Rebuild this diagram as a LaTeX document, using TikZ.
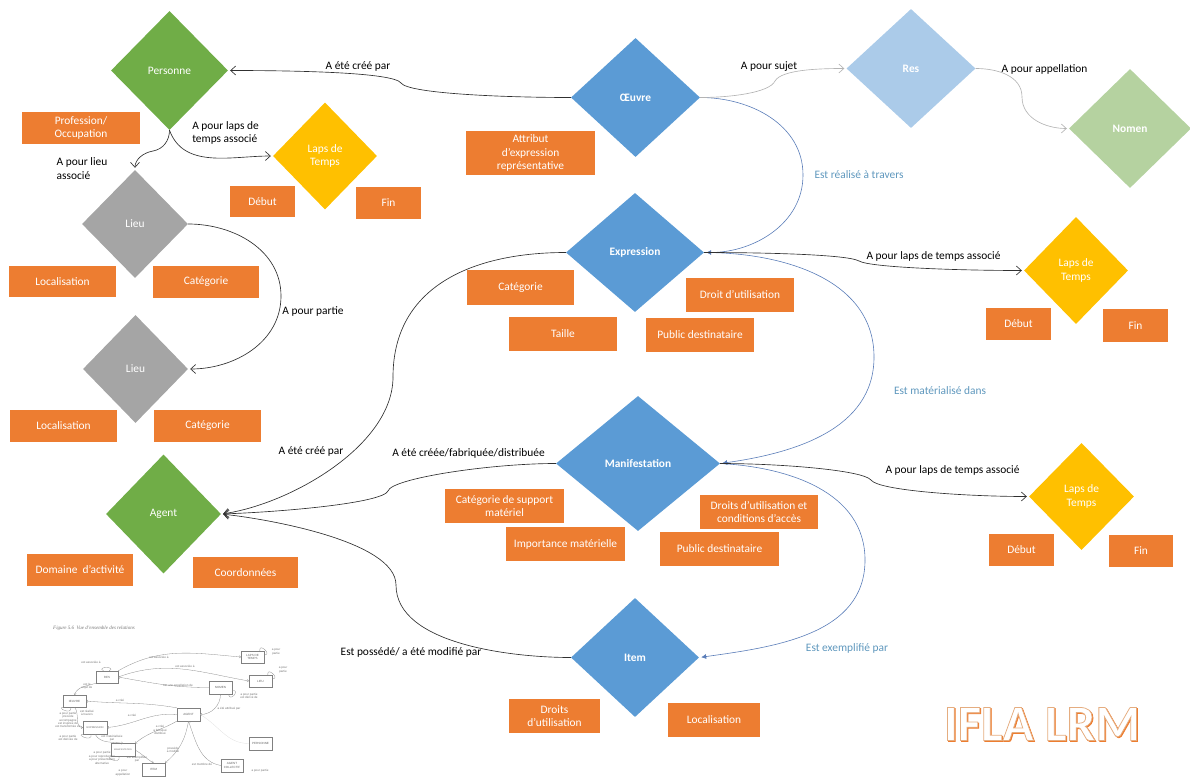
\documentclass[tikz,border=0pt]{standalone}
\usepackage{fontspec}
\setmainfont{Carlito}
\newfontfamily\logofont[FakeBold=1.5]{Carlito Bold}
\newfontfamily\thumbfont{Liberation Sans}
\newfontfamily\captionfont{Liberation Serif}
\usetikzlibrary{
	shapes.geometric,
	arrows.meta
}
\definecolor{orangebox}{HTML}{ED7D31}
\definecolor{bluemain}{HTML}{5B9BD5}
\definecolor{bluepale}{HTML}{ABCBE9}
\definecolor{greenmain}{HTML}{70AD47}
\definecolor{greenpale}{HTML}{B5D2A0}
\definecolor{goldmain}{HTML}{FFC000}
\definecolor{greymain}{HTML}{A5A5A5}
\definecolor{blueline}{HTML}{5A7DB8}
\definecolor{bluetext}{HTML}{5E97BD}
\definecolor{darkline}{HTML}{303030}
\definecolor{greyline}{HTML}{B4B4B4}
\tikzset{
	every node/.style={font=\fontsize{11.4}{13.4}\selectfont},
	entity/.style={diamond,aspect=1,inner sep=0pt,text=white,align=center},
	strong/.style={font=\fontsize{11.4}{13.4}\selectfont\bfseries},
	attr/.style={rectangle,fill=orangebox,text=white,inner sep=0pt,align=center},
	label/.style={text=black,inner sep=0pt,align=left},
	bluelabel/.style={text=bluetext,inner sep=0pt},
	every edge/.append style={
		darkline,line width=.65pt,-{Straight Barb[length=5pt,width=9pt]},shorten >=2pt
	},
	nohead/.style={-,shorten >=0pt},
	blue rel/.style={blueline,line width=.6pt,-{Latex[length=5pt,width=5pt]}},
	grey rel/.style={greyline,line width=.65pt},
	kinkin/.style={in=#1,in max distance=13pt},
	kinkout/.style={out=#1,out max distance=13pt},
	thumbbox/.style={rectangle,draw=black!50,line width=.3pt,inner sep=0pt,
		text=black!60,align=center,font=\fontsize{3}{3.4}\selectfont\thumbfont},
	thumbtext/.style={text=black!55,inner sep=0pt,align=center,font=\fontsize{3}{3.4}\selectfont\thumbfont},
	thumb rel/.style={black!45,line width=.3pt,-{Straight Barb[length=1.5pt,width=2.5pt]},shorten >=0pt},
	thumb loop/.style={black!45,line width=.3pt,-,shorten >=0pt,min distance=9pt}
}
\newcommand{\logotext}[1]{\special{pdf:bcolor [#1]}IFLA LRM\special{pdf:ecolor}}

\begin{document}
\begin{tikzpicture}[x=1pt,y=-1pt]
	\useasboundingbox (0,0) rectangle (1190,776);
	\draw
		node[entity,fill=greenmain,minimum width=117pt,minimum height=119pt]        (personne) at (169.5,70.5) {Personne}
		node[entity,fill=goldmain,minimum width=104pt,minimum height=107pt]         (lapsA)    at (325,156)    {Laps de\\Temps}
		node[entity,fill=greymain,minimum width=106pt,minimum height=108pt]         (lieuA)    at (135,224)    {Lieu}
		node[entity,fill=greymain,minimum width=105pt,minimum height=108pt]         (lieuB)    at (135.5,369)  {Lieu}
		node[entity,fill=greenmain,minimum width=115pt,minimum height=119pt]        (agent)    at (163.5,514)  {Agent}
		node[entity,strong,fill=bluemain,minimum width=129pt,minimum height=119pt]  (oeuvre)   at (635.5,97.5) {Œuvre}
		node[entity,strong,fill=bluepale,minimum width=129pt,minimum height=119pt]  (res)      at (911,68.5)   {Res}
		node[entity,strong,fill=greenpale,minimum width=122pt,minimum height=119pt] (nomen)    at (1130,128.5) {Nomen}
		node[entity,strong,fill=bluemain,minimum width=138pt,minimum height=119pt]  (expr)     at (635,252.5)  {Expression}
		node[entity,strong,fill=bluemain,minimum width=164pt,minimum height=135pt]  (manif)    at (638,463.5)  {Manifestation}
		node[entity,strong,fill=bluemain,minimum width=128pt,minimum height=119pt]  (item)     at (635,657.5)  {Item}
		node[entity,fill=goldmain,minimum width=104pt,minimum height=107pt]         (lapsB)    at (1076,270.5) {Laps de\\Temps}
		node[entity,fill=goldmain,minimum width=105pt,minimum height=107pt]         (lapsC)    at (1081.5,496.5) {Laps de\\Temps}

		node[attr,minimum width=118pt,minimum height=32pt] (profession) at (81,128)      {Profession/\\Occupation}
		node[attr,minimum width=65pt,minimum height=31pt]  (debutA)     at (262.5,201.5) {Début}
		node[attr,minimum width=65pt,minimum height=32pt]  (finA)       at (388.5,203)   {Fin}
		node[attr,minimum width=129pt,minimum height=44pt] (attribut)   at (530.5,153)   {Attribut\\d’expression\\représentative}
		node[attr,minimum width=107pt,minimum height=31pt] (locA)       at (62.5,281.5)  {Localisation}
		node[attr,minimum width=106pt,minimum height=32pt] (catA)       at (206,282)     {Catégorie}
		node[attr,minimum width=107pt,minimum height=32pt] (locB)       at (63.5,426)    {Localisation}
		node[attr,minimum width=107pt,minimum height=32pt] (catB)       at (207.5,426)   {Catégorie}
		node[attr,minimum width=106pt,minimum height=32pt] (domaine)    at (80,570)      {Domaine\ \ d’activité}
		node[attr,minimum width=105pt,minimum height=31pt] (coord)      at (245.5,572.5) {Coordonnées}
		node[attr,minimum width=107pt,minimum height=35pt] (catC)       at (520.5,287.5) {Catégorie}
		node[attr,minimum width=108pt,minimum height=34pt] (taille)     at (563,334)     {Taille}
		node[attr,minimum width=108pt,minimum height=34pt] (droitA)     at (740,295)     {Droit d’utilisation}
		node[attr,minimum width=108pt,minimum height=34pt] (publicA)    at (700,335)     {Public destinataire}
		node[attr,minimum width=119pt,minimum height=34pt] (support)    at (504.5,506)   {Catégorie de support\\matériel}
		node[attr,minimum width=119pt,minimum height=34pt] (importance) at (565.5,544)   {Importance matérielle}
		node[attr,minimum width=118pt,minimum height=34pt] (droitB)     at (759,512)     {Droits d’utilisation et\\conditions d’accès}
		node[attr,minimum width=119pt,minimum height=34pt] (publicB)    at (719.5,549)   {Public destinataire}
		node[attr,minimum width=91pt,minimum height=34pt]  (droitC)     at (554.5,716)   {Droits\\d’utilisation}
		node[attr,minimum width=92pt,minimum height=34pt]  (locC)       at (714,720)     {Localisation}
		node[attr,minimum width=65pt,minimum height=32pt]  (debutB)     at (1018.5,324)  {Début}
		node[attr,minimum width=65pt,minimum height=33pt]  (finB)       at (1135.5,325.5) {Fin}
		node[attr,minimum width=65pt,minimum height=32pt]  (debutC)     at (1021.5,550)  {Début}
		node[attr,minimum width=64pt,minimum height=32pt]  (finC)       at (1141,551)    {Fin}

		node[label] (creePers)  at (358,67)    {A été créé par}
		node[label] (lapsPers)  at (225.5,133) {A pour laps de\\temps associé}
		node[label] (lieuPers)  at (82,168.5)  {A pour lieu\\associé}
		node[label] (partie)    at (313,311)   {A pour partie}
		node[label] (creeExpr)  at (311,452)   {A été créé par}
		node[label] (creeManif) at (468.5,453) {A été créée/fabriquée/distribuée}
		node[label] (possede)   at (411,652.5) {Est possédé/ a été modifié par}
		node[label] (sujet)     at (769,67)    {A pour sujet}
		node[label] (appel)     at (1044.5,69) {A pour appellation}
		node[label] (lapsExpr)  at (933.5,256) {A pour laps de temps associé}
		node[label] (lapsManif) at (952.5,470) {A pour laps de temps associé}
		node[bluelabel] (realise)   at (859,175) {Est réalisé à travers}
		node[bluelabel] (materiel)  at (940,391) {Est matérialisé dans}
		node[bluelabel] (exemple)   at (847,648) {Est exemplifié par}

		node[inner sep=0pt] (logoshade) at (1043,725) {\fontsize{51}{51}\logofont\logotext{0.93 0.49 0.19}}
		node[inner sep=0pt] (logo) at (1042,724) {\fontsize{51}{51}\logofont\logotext{1 1 1] [0.90 0.68 0.50}}

		coordinate (kinkPers)  at (401,83)
		coordinate (kinkLieu)  at (153,151)
		coordinate (arcLieu)   at (281,296)
		coordinate (archExpr)  at (393,377)
		coordinate (kinkManif) at (388,491)
		coordinate (archItem)  at (396,585)
		coordinate (arcOeuvre) at (803,175)
		coordinate (arcExpr)   at (874,357)
		coordinate (arcManif)  at (865,560)
		coordinate (kinkRes)   at (775,81)
		coordinate (archRes)   at (1022,97)
		coordinate (kinkExpr)  at (859,261)
		coordinate (kinkLaps)  at (871,480)

		(oeuvre.west)   edge[nohead,out=180,kinkin=-55]               (kinkPers)
		(kinkPers)      edge[kinkout=125,in=0]                        (personne.east)
		(personne.south) edge[nohead,out=-90,in=10]                   (kinkLieu)
		(kinkLieu)      edge[out=190,in=90]                           (lieuA.north)
		(personne.south) edge[out=-70,in=180]                         (lapsA.west)
		(lieuA.east)    edge[nohead,out=0,in=90]                      (arcLieu)
		(arcLieu)       edge[out=-90,in=0]                            (lieuB.east)
		(expr.west)     edge[nohead,out=180,in=90,looseness=1.1]      (archExpr)
		(archExpr)      edge[out=-90,in=8,looseness=.8]               (agent.east)
		(manif.west)    edge[nohead,out=180,kinkin=75]                (kinkManif)
		(kinkManif)     edge[kinkout=-115,in=2]                       (agent.east)
		(item.west)     edge[nohead,out=180,in=-90,looseness=.8]      (archItem)
		(archItem)      edge[out=90,in=-6,looseness=.6]               (agent.east)

		(oeuvre.east)   edge[nohead,blue rel,-,out=0,in=90]           (arcOeuvre)
		(arcOeuvre)     edge[blue rel,out=-90,in=0]                   (expr.east)
		(expr.east)     edge[nohead,blue rel,-,out=0,in=90]           (arcExpr)
		(arcExpr)       edge[blue rel,out=-90,in=8]                   (manif.east)
		(manif.east)    edge[nohead,blue rel,-,out=-3,in=90]          (arcManif)
		(arcManif)      edge[blue rel,out=-90,in=8]                   (item.east)

		(oeuvre.east)   edge[nohead,grey rel,out=0,kinkin=-115]       (kinkRes)
		(kinkRes)       edge[grey rel,kinkout=60,in=180]              (res.west)
		(res.east)      edge[nohead,grey rel,out=0,in=90]             (archRes)
		(archRes)       edge[grey rel,out=-90,in=180]                 (nomen.west)

		(expr.east)     edge[nohead,out=0,kinkin=150]                 (kinkExpr)
		(kinkExpr)      edge[kinkout=-30,in=180]                      (lapsB.west)
		(manif.east)    edge[nohead,out=0,kinkin=130]                 (kinkLaps)
		(kinkLaps)      edge[kinkout=-55,in=180]                      (lapsC.west)
	;
	% small figure of the model, bottom left
	\draw
		node[thumbtext,font=\fontsize{5}{5}\selectfont\captionfont\itshape] (thumbtitle) at (94,628) {Figure 5.6\ \ Vue d’ensemble des relations}
		node[thumbbox,minimum width=23pt,minimum height=12pt] (tLaps)   at (252.5,657) {LAPS DE\\TEMPS}
		node[thumbbox,minimum width=23pt,minimum height=12pt] (tLieu)   at (260.5,681) {LIEU}
		node[thumbbox,minimum width=23pt,minimum height=13pt] (tNomen)  at (220.5,687.5) {NOMEN}
		node[thumbbox,minimum width=22pt,minimum height=12pt] (tRes)    at (107,677)   {RES}
		node[thumbbox,minimum width=23pt,minimum height=12pt] (tOeuvre) at (74.5,701)  {ŒUVRE}
		node[thumbbox,minimum width=24pt,minimum height=13pt,font=\fontsize{2.6}{3}\selectfont\thumbfont] (tExpr)   at (95,727.5)  {EXPRESSION}
		node[thumbbox,minimum width=23pt,minimum height=13pt] (tAgent)  at (188.5,714.5) {AGENT}
		node[thumbbox,minimum width=23pt,minimum height=13pt] (tPers)   at (260.5,743.5) {PERSONNE}
		node[thumbbox,minimum width=24pt,minimum height=13pt,font=\fontsize{2.2}{3}\selectfont\thumbfont] (tManif)  at (123,750)   {MANIFESTATION}
		node[thumbbox,minimum width=23pt,minimum height=13pt] (tItem)   at (153.5,769.5) {ITEM}
		node[thumbbox,minimum width=22pt,minimum height=13pt] (tColl)   at (232,765.5) {AGENT\\COLLECTIF}

		node[thumbtext] (tA) at (91,662)    {est associée à}
		node[thumbtext] (tB) at (159,657)   {est associée à}
		node[thumbtext] (tC) at (185,666)   {est associée à}
		node[thumbtext] (tD) at (178,686)   {est une appellation de}
		node[thumbtext] (tE) at (87,686)    {est le\\sujet de}
		node[thumbtext] (tF) at (120,700)   {a créé}
		node[thumbtext] (tG) at (132,715)   {a créé}
		node[thumbtext] (tH) at (87,713)    {est réalisé\\à travers}
		node[thumbtext] (tI) at (229,709)   {a été attribué par}
		node[thumbtext] (tJ) at (249,696)   {a pour partie\\est dérivé de}
		node[thumbtext] (tK) at (276,652)   {a pour\\partie}
		node[thumbtext] (tL) at (283,670)   {a pour\\partie}
		node[thumbtext] (tM) at (202,764)   {est membre de}
		node[thumbtext] (tN) at (173,750)   {possède\\a modifié}
		node[thumbtext] (tO) at (160,730)   {a créé\\a fabriqué\\distribué}
		node[thumbtext] (tP) at (112,738)   {est matérialisée\\par}
		node[thumbtext] (tQ) at (137,759)   {est exemplifiée\\par}
		node[thumbtext] (tR) at (68,720)    {a pour partie\\précède\\accompagne\\est inspirée de\\est transformée en}
		node[thumbtext] (tS) at (68,738)    {a pour partie\\est dérivée de}
		node[thumbtext] (tT) at (102,758)   {a pour partie\\a pour reproduction\\a pour présentation\\alternative}
		node[thumbtext] (tU) at (123,773)   {a pour\\appellation}
		node[thumbtext] (tV) at (260,771)   {a pour partie}

		(tRes.north east) edge[thumb rel,out=30,in=175]   (tLaps.west)
		(tRes.east)       edge[thumb rel,out=20,in=170]   (tLieu.west)
		(tNomen.west)     edge[thumb rel,out=180,in=-10]  (tRes.east)
		(tRes.south west) edge[thumb rel,out=200,in=70]   (tOeuvre.north)
		(tAgent.north west) edge[thumb rel,out=170,in=-5] (tOeuvre.east)
		(tAgent.west)     edge[thumb rel,out=175,in=5]    (tExpr.east)
		(tAgent.south west) edge[thumb rel,out=210,in=40] (tManif.north east)
		(tAgent.south)    edge[thumb rel,out=-100,in=40]  (tItem.north east)
		(tNomen.south)    edge[thumb rel,out=-90,in=0]    (tAgent.east)
		(tOeuvre.south)   edge[thumb rel,out=-50,in=180]  (tExpr.west)
		(tExpr.south)     edge[thumb rel,out=-60,in=170]  (tManif.north)
		(tManif.east)     edge[thumb rel,out=-30,in=150]  (tItem.north)
		(tColl.west)      edge[thumb rel,out=170,in=-70]  (tAgent.south)
		(tPers.west)      edge[nohead,black!12,line width=.3pt,out=180,in=-30] (tAgent.east)
		(tRes.120)        edge[thumb loop,out=150,in=30]  (tRes.70)
		(tLaps.40)        edge[thumb loop,out=100,in=0]   (tLaps.10)
		(tLieu.40)        edge[thumb loop,out=100,in=0]   (tLieu.10)
		(tNomen.-40)      edge[thumb loop,out=-80,in=10]  (tNomen.-15)
		(tOeuvre.-150)    edge[thumb loop,out=180,in=-80] (tOeuvre.-120)
		(tExpr.-150)      edge[thumb loop,out=180,in=-80] (tExpr.-120)
		(tManif.-150)     edge[thumb loop,out=180,in=-80] (tManif.-120)
	;
\end{tikzpicture}
\end{document}
